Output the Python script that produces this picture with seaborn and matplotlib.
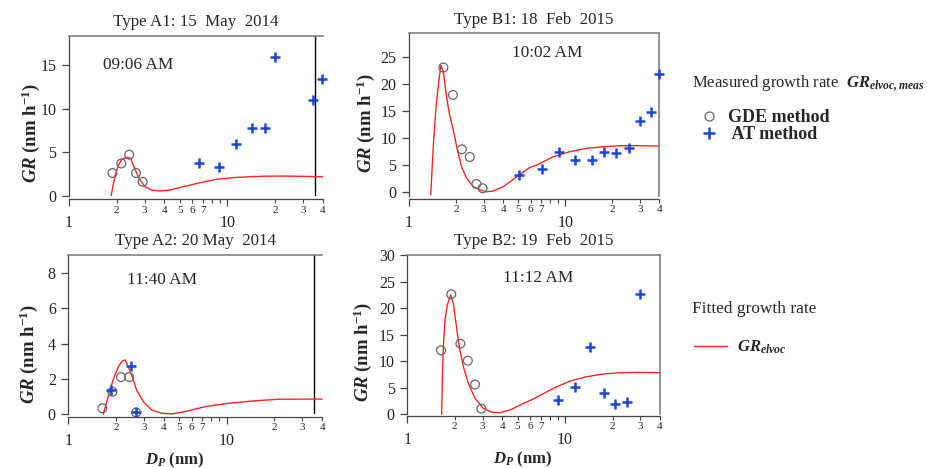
import matplotlib
matplotlib.use("Agg")
import matplotlib.pyplot as plt
from matplotlib.lines import Line2D
from matplotlib.ticker import FixedLocator, FixedFormatter
import pandas as pd
import seaborn as sns

# ---------------- data ----------------
# Type A1, 15 May 2014, 09:06 AM
a1_gde_dp = [1.88, 2.14, 2.40, 2.65, 2.92]
a1_gde_gr = [2.6, 3.7, 4.7, 2.6, 1.6]
a1_at_dp = [6.66, 8.9, 11.35, 14.3, 17.3, 20.1, 34.6, 39.5]
a1_at_gr = [3.7, 3.3, 5.95, 7.8, 7.8, 15.85, 11.0, 13.4]
a1_fit_dp = [1.845, 1.89, 1.95, 2.05, 2.15, 2.31, 2.45, 2.55, 2.68, 2.81, 3.02,
             3.33, 3.76, 4.34, 5.27, 6.72, 8.57, 10.9, 13.9, 17.7, 23.7, 40.0]
a1_fit_gr = [0.0, 1.0, 2.2, 3.5, 4.15, 4.4, 4.3, 3.5, 2.55, 1.8, 1.03,
             0.65, 0.54, 0.65, 1.03, 1.49, 1.88, 2.07, 2.18, 2.24, 2.25, 2.18]

# Type B1, 18 Feb 2015, 10:02 AM
b1_gde_dp = [1.66, 1.91, 2.18, 2.45, 2.70, 2.96]
b1_gde_gr = [23.1, 18.0, 7.9, 6.45, 1.45, 0.65]
b1_at_dp = [5.04, 7.07, 9.08, 11.6, 14.8, 17.7, 21.0, 25.5, 30.3, 35.6, 40.0]
b1_at_gr = [3.15, 4.2, 7.3, 5.9, 5.9, 7.45, 7.25, 8.1, 13.1, 14.75, 21.9]
b1_fit_dp = [1.377, 1.43, 1.49, 1.556, 1.60, 1.66, 1.726, 1.81, 1.92, 2.04, 2.17,
             2.34, 2.58, 2.85, 3.14, 3.46, 4.01, 5.01, 5.95, 6.57, 8.39, 10.7,
             13.7, 17.5, 22.4, 28.7, 40.0]
b1_fit_gr = [-0.6, 8.4, 15.8, 20.8, 23.5, 22.3, 18.3, 14.6, 11.5, 7.8, 4.65,
             2.5, 0.93, 0.32, 0.0, 0.13, 0.93, 2.98, 4.54, 4.97, 6.51, 7.44,
             8.07, 8.37, 8.56, 8.56, 8.5]

# Type A2, 20 May 2014, 11:40 AM
a2_gde_dp = [1.64, 1.90, 2.15, 2.42, 2.68]
a2_gde_gr = [0.34, 1.27, 2.1, 2.1, 0.1]
a2_at_dp = [1.86, 2.49, 2.68]
a2_at_gr = [1.4, 2.73, 0.12]
a2_fit_dp = [1.66, 1.75, 1.83, 1.95, 2.07, 2.19, 2.28, 2.39, 2.54, 2.70, 2.98,
             3.36, 3.89, 4.5, 5.46, 7.3, 10.2, 14.4, 21.2, 40.0]
a2_fit_gr = [0.0, 0.71, 1.37, 2.12, 2.69, 3.01, 3.07, 2.69, 2.09, 1.37, 0.71,
             0.24, 0.06, 0.02, 0.15, 0.43, 0.62, 0.75, 0.85, 0.86]

# Type B2, 19 Feb 2015, 11:12 AM
b2_gde_dp = [1.636, 1.90, 2.17, 2.42, 2.69, 2.95]
b2_gde_gr = [12.05, 22.6, 13.3, 10.1, 5.6, 1.07]
b2_at_dp = [9.07, 11.6, 14.4, 17.6, 20.8, 24.8, 30.0]
b2_at_gr = [2.65, 5.15, 12.6, 4.0, 2.0, 2.38, 22.6]
b2_fit_dp = [1.652, 1.667, 1.692, 1.734, 1.793, 1.884, 1.957, 2.036, 2.136,
             2.265, 2.437, 2.688, 3.03, 3.43, 3.87, 4.48, 5.18, 6.0, 6.61, 8.43,
             10.8, 13.7, 17.5, 22.3, 28.5, 40.0]
b2_fit_gr = [0.0, 6.5, 12.7, 17.8, 20.6, 22.5, 20.9, 17.1, 12.7, 9.0, 5.85,
             3.0, 1.13, 0.38, 0.3, 0.81, 1.75, 2.6, 3.2, 4.9, 6.27, 7.08, 7.59,
             7.84, 7.9, 7.84]

titles = ["Type A1: 15  May  2014", "Type B1: 18  Feb  2015",
          "Type A2: 20 May  2014", "Type B2: 19  Feb  2015"]
times = ["09:06 AM", "10:02 AM", "11:40 AM", "11:12 AM"]
y_ticks = [[0, 5, 10, 15], [0, 5, 10, 15, 20, 25],
           [0, 2, 4, 6, 8], [0, 5, 10, 15, 20, 25, 30]]
x_major = [1, 10]
x_minor = [2, 3, 4, 5, 6, 7, 8, 9, 20, 30, 40]
x_minor_labels = ["2", "3", "4", "5", "6", "7", "", "", "2", "3", "4"]

# ---------------- style ----------------
sns.set_theme(style="ticks")
plt.rcParams["font.family"] = ["Liberation Serif", "DejaVu Serif"]
plt.rcParams["mathtext.fontset"] = "custom"
plt.rcParams["mathtext.rm"] = "Liberation Serif"
plt.rcParams["mathtext.it"] = "Liberation Serif:italic"
plt.rcParams["mathtext.bf"] = "Liberation Serif:bold"
plt.rcParams["mathtext.bfit"] = "Liberation Serif:italic:bold"

RED = "#ff2424"
BLUE = "#1c44d6"
GREY = "#666666"
SPINE = "#444444"

W, H = 928, 468
fig = plt.figure(figsize=(W / 100, H / 100), dpi=100)


def rect(l, r, t, b):
    return [l / W, 1 - b / H, (r - l) / W, (b - t) / H]


panels = [
    dict(rect=rect(69, 322.6, 35.7, 195.7), ylim=(0, 18.35), gde=(a1_gde_dp, a1_gde_gr),
         at=(a1_at_dp, a1_at_gr), fit=(a1_fit_dp, a1_fit_gr), kind="A",
         off=2.7, time_xy=(0.273, 0.817), ylab=(-0.108, 0.39), xlab=None),
    dict(rect=rect(409, 659.3, 33.3, 195.5), ylim=(-0.7, 29.46), gde=(b1_gde_dp, b1_gde_gr),
         at=(b1_at_dp, b1_at_gr), fit=(b1_fit_dp, b1_fit_gr), kind="B",
         off=2.5, time_xy=(0.553, 0.878), ylab=(-0.128, 0.45), xlab=None),
    dict(rect=rect(68.3, 322.1, 255, 414.3), ylim=(0, 9.0), gde=(a2_gde_dp, a2_gde_gr),
         at=(a2_at_dp, a2_at_gr), fit=(a2_fit_dp, a2_fit_gr), kind="A",
         off=2.2, time_xy=(0.371, 0.843), ylab=(-0.113, 0.38), xlab=(0.42, -0.228)),
    dict(rect=rect(407.3, 660, 255, 414.3), ylim=(0, 30), gde=(b2_gde_dp, b2_gde_gr),
         at=(b2_at_dp, b2_at_gr), fit=(b2_fit_dp, b2_fit_gr), kind="B",
         off=1.0, time_xy=(0.518, 0.856), ylab=(-0.13, 0.39), xlab=(0.458, -0.222)),
]

for i, p in enumerate(panels):
    ax = fig.add_axes(p["rect"])
    fit = pd.DataFrame({"dp": p["fit"][0], "gr": p["fit"][1]})
    gde = pd.DataFrame({"dp": p["gde"][0], "gr": p["gde"][1]})
    at = pd.DataFrame({"dp": p["at"][0], "gr": p["at"][1]})

    sns.lineplot(data=fit, x="dp", y="gr", ax=ax, color=RED, lw=1.0,
                 sort=False, estimator=None, clip_on=False, zorder=2)
    sns.scatterplot(data=gde, x="dp", y="gr", ax=ax, marker="o", s=40,
                    facecolors="none", edgecolors=GREY, linewidths=0.9,
                    clip_on=False, zorder=3)
    sns.scatterplot(data=at, x="dp", y="gr", ax=ax, marker="+", s=55,
                    color=BLUE, linewidths=1.8, clip_on=False, zorder=4)

    ax.set_xscale("log")
    ax.set_xlim(1, 40)
    ax.set_ylim(*p["ylim"])

    # spines
    ax.spines["top"].set_color("#777777")
    ax.spines["top"].set_linewidth(1.1)
    ax.spines["left"].set_color(SPINE)
    ax.spines["left"].set_linewidth(0.9)
    ax.spines["bottom"].set_color(SPINE)
    ax.spines["bottom"].set_linewidth(0.9)
    ax.spines["bottom"].set_position(("outward", p["off"]))
    if p["kind"] == "A":
        ax.spines["right"].set_visible(False)
        ax.axvline(35.7, color="black", lw=1.0, zorder=1)
    else:
        ax.spines["right"].set_color("#777777")
        ax.spines["right"].set_linewidth(1.1)

    # x axis: log decades with small minor labels
    ax.xaxis.set_major_locator(FixedLocator(x_major))
    ax.xaxis.set_major_formatter(FixedFormatter(["1", "10"]))
    ax.xaxis.set_minor_locator(FixedLocator(x_minor))
    ax.xaxis.set_minor_formatter(FixedFormatter(x_minor_labels))
    ax.tick_params(axis="x", which="major", direction="out", length=5, width=0.9,
                   color=SPINE, labelsize=11.5, pad=6.5, labelcolor="#222222")
    ax.tick_params(axis="x", which="minor", direction="out", length=3.2, width=0.8,
                   color=SPINE, labelsize=8, pad=1.2, labelcolor="#222222")
    ax.set_yticks(y_ticks[i])
    ax.tick_params(axis="y", which="major", direction="out", length=5, width=0.9,
                   color=SPINE, labelsize=11.5, pad=4, labelcolor="#222222")
    ax.tick_params(axis="y", which="minor", left=False)

    ax.set_ylabel(r"$\mathbfit{GR}$ (nm h$^{\mathbf{-1}}$)", fontsize=13.5,
                  fontweight="bold")
    ax.yaxis.set_label_coords(*p["ylab"])
    if p["xlab"] is not None:
        ax.set_xlabel(r"$\mathbfit{D_P}$ (nm)", fontsize=12, fontweight="bold")
        ax.xaxis.set_label_coords(*p["xlab"])
    else:
        ax.set_xlabel("")

    ax.set_title(titles[i], fontsize=12.2, pad=7)
    ax.text(*p["time_xy"], times[i], transform=ax.transAxes, fontsize=12.4,
            ha="center", va="center")

# legend area on the right
fig.text(692 / W, 1 - 83 / H,
         r"Measured growth rate  $\mathbfit{GR}_{\mathbfit{elvoc,meas}}$",
         fontsize=12, ha="left", va="center")
h_gde = Line2D([], [], ls="", marker="o", mfc="none", mec=GREY, mew=0.9, ms=6.5)
h_at = Line2D([], [], ls="", marker="+", color=BLUE, mew=1.8, ms=8)
fig.legend([h_gde, h_at], ["GDE method", " AT method"], loc="upper left",
           bbox_to_anchor=(701 / W, 1 - 109 / H), frameon=False,
           prop=dict(family="Liberation Serif", weight="bold", size=13),
           handlelength=0.9, handletextpad=0.6, labelspacing=0.0,
           borderpad=0, borderaxespad=0)

fig.text(692 / W, 1 - 309 / H, "Fitted growth rate", fontsize=12.4,
         ha="left", va="center")
h_fit = Line2D([], [], color=RED, lw=1.0)
fig.legend([h_fit], [r"$\mathbfit{GR}_{\mathbfit{elvoc}}$"], loc="upper left",
           bbox_to_anchor=(694 / W, 1 - 339 / H), frameon=False,
           prop=dict(size=12), handlelength=2.0, handletextpad=0.6,
           borderpad=0, borderaxespad=0)

fig.savefig("out.png", dpi=100)
